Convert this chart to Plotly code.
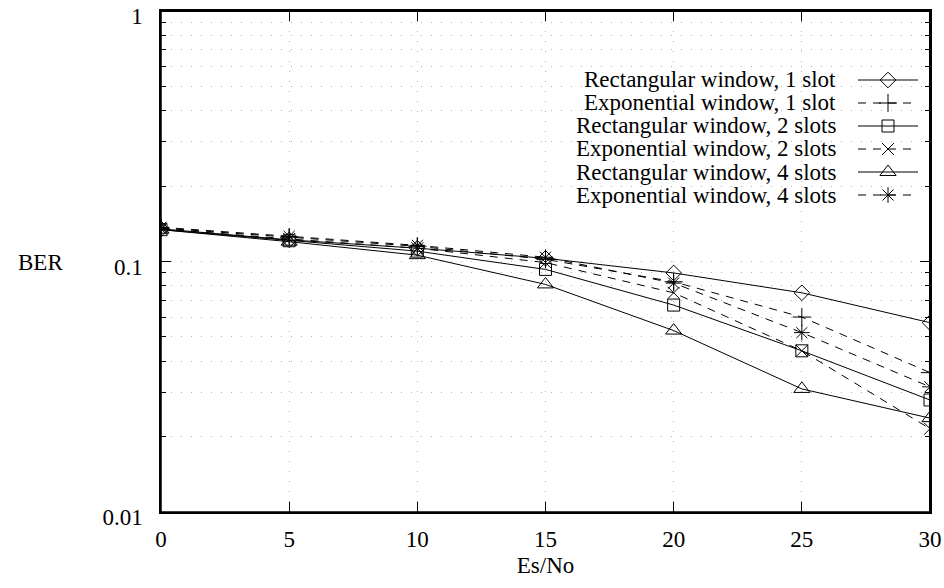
import plotly.graph_objects as go

es_no = [0, 5, 10, 15, 20, 25, 30]
rect_1 = [0.135, 0.122, 0.113, 0.103, 0.090, 0.075, 0.057]
exp_1 = [0.136, 0.125, 0.115, 0.102, 0.083, 0.060, 0.036]
rect_2 = [0.134, 0.121, 0.110, 0.093, 0.067, 0.044, 0.028]
exp_2 = [0.135, 0.123, 0.113, 0.099, 0.075, 0.044, 0.0215]
rect_4 = [0.134, 0.120, 0.106, 0.081, 0.053, 0.031, 0.0237]
exp_4 = [0.137, 0.126, 0.116, 0.104, 0.082, 0.052, 0.0316]

names = ["Rectangular window, 1 slot", "Exponential window, 1 slot",
         "Rectangular window, 2 slots", "Exponential window, 2 slots",
         "Rectangular window, 4 slots", "Exponential window, 4 slots"]
series = [rect_1, exp_1, rect_2, exp_2, rect_4, exp_4]
symbols = ["diamond-open", "cross-thin-open", "square-open", "x-thin-open",
           "triangle-up-open", "asterisk-open"]
sizes = [12, 13, 12, 12, 14, 13]
dashes = ["solid", "8px,7px", "solid", "8px,7px", "solid", "8px,7px"]

x_ticks = [0, 5, 10, 15, 20, 25, 30]
y_ticks = [0.01, 0.1, 1]
y_tick_labels = ["0.01", "0.1", "1"]

FONT = "Times New Roman, Liberation Serif, Nimbus Roman, DejaVu Serif, serif"
FS = 23
W, H = 944, 588
L, R, T, B = 161, 14, 11, 76
pw, ph = W - L - R, H - T - B

fig = go.Figure()
for name, ys, sym, sz, dash in zip(names, series, symbols, sizes, dashes):
    fig.add_trace(go.Scatter(
        x=es_no, y=ys, mode="lines+markers", name=name, showlegend=False,
        line=dict(color="black", width=1, dash=dash),
        marker=dict(symbol=sym, size=sz, color="black",
                    line=dict(color="black", width=1)),
    ))

# legend drawn on overlay axes (text right-aligned, sample on right)
row0_px, row_step = 80, 23
for i, (name, sym, sz, dash) in enumerate(zip(names, symbols, sizes, dashes)):
    py = row0_px + i * row_step
    yf = (H - B - py) / ph
    x0 = (858 - L) / pw
    x1 = (918 - L) / pw
    xm = (888 - L) / pw
    fig.add_trace(go.Scatter(
        x=[x0, x1], y=[yf, yf], mode="lines", xaxis="x2", yaxis="y2",
        showlegend=False, hoverinfo="skip",
        line=dict(color="black", width=1, dash=dash)))
    fig.add_trace(go.Scatter(
        x=[xm], y=[yf], mode="markers", xaxis="x2", yaxis="y2",
        showlegend=False, hoverinfo="skip",
        marker=dict(symbol=sym, size=sz, color="black",
                    line=dict(color="black", width=1))))
    fig.add_annotation(x=(838 - L) / pw, y=yf, xref="paper", yref="paper",
                       text=name, showarrow=False, xanchor="right",
                       yanchor="middle", font=dict(family=FONT, size=FS, color="black"))

fig.add_annotation(x=(40 - L) / pw, y=(H - B - 262) / ph, xref="paper", yref="paper",
                   text="BER", showarrow=False, xanchor="center", yanchor="middle",
                   font=dict(family=FONT, size=FS, color="black"))

# plot frame: top and right edges as a line on the overlay axes
fig.add_trace(go.Scatter(
    x=[0, 1, 1], y=[1, 1, 0], mode="lines", xaxis="x2", yaxis="y2",
    showlegend=False, hoverinfo="skip", cliponaxis=False,
    line=dict(color="black", width=2)))
fig.add_shape(type="rect", xref="paper", yref="paper",
              x0=0, y0=0, x1=1, y1=1,
              line=dict(color="black", width=1.5), layer="above")

minor_y = [m * 10 ** e for e in (-2, -1) for m in range(2, 10)]
GRID = "#b0b0b0"
GDASH = "1px,9px"

fig.update_layout(
    width=W, height=H,
    margin=dict(l=L, r=R, t=T, b=B),
    plot_bgcolor="white", paper_bgcolor="white",
    font=dict(family=FONT, size=FS, color="black"),
    showlegend=False,
    xaxis=dict(
        range=[0, 30], tickvals=x_ticks, ticks="inside", ticklen=10,
        tickcolor="black", showline=True, linecolor="black", linewidth=1.5,
        mirror="allticks", showgrid=True, gridcolor=GRID, griddash=GDASH,
        gridwidth=1, zeroline=False, automargin=False, ticklabeloverflow="allow",
        ticklabelstandoff=6,
        title=dict(text="Es/No", font=dict(family=FONT, size=FS), standoff=6),
        tickfont=dict(family=FONT, size=FS),
    ),
    yaxis=dict(
        type="log", range=[-2, 0], tickvals=y_ticks, ticktext=y_tick_labels,
        ticks="inside", ticklen=10, tickcolor="black", showline=True,
        linecolor="black", linewidth=1.5, mirror="allticks", showgrid=True,
        gridcolor=GRID, griddash=GDASH, gridwidth=1, zeroline=False,
        automargin=False, ticklabeloverflow="allow", ticklabelshift=5,
        tickfont=dict(family=FONT, size=FS), ticklabelstandoff=12,
        minor=dict(tickvals=minor_y, ticks="inside", ticklen=5, tickcolor="black",
                   showgrid=True, gridcolor=GRID, griddash=GDASH, gridwidth=1),
    ),
    xaxis2=dict(overlaying="x", range=[0, 1], visible=False, fixedrange=True),
    yaxis2=dict(overlaying="y", range=[0, 1], visible=False, fixedrange=True),
)

fig.write_html("out.html")
